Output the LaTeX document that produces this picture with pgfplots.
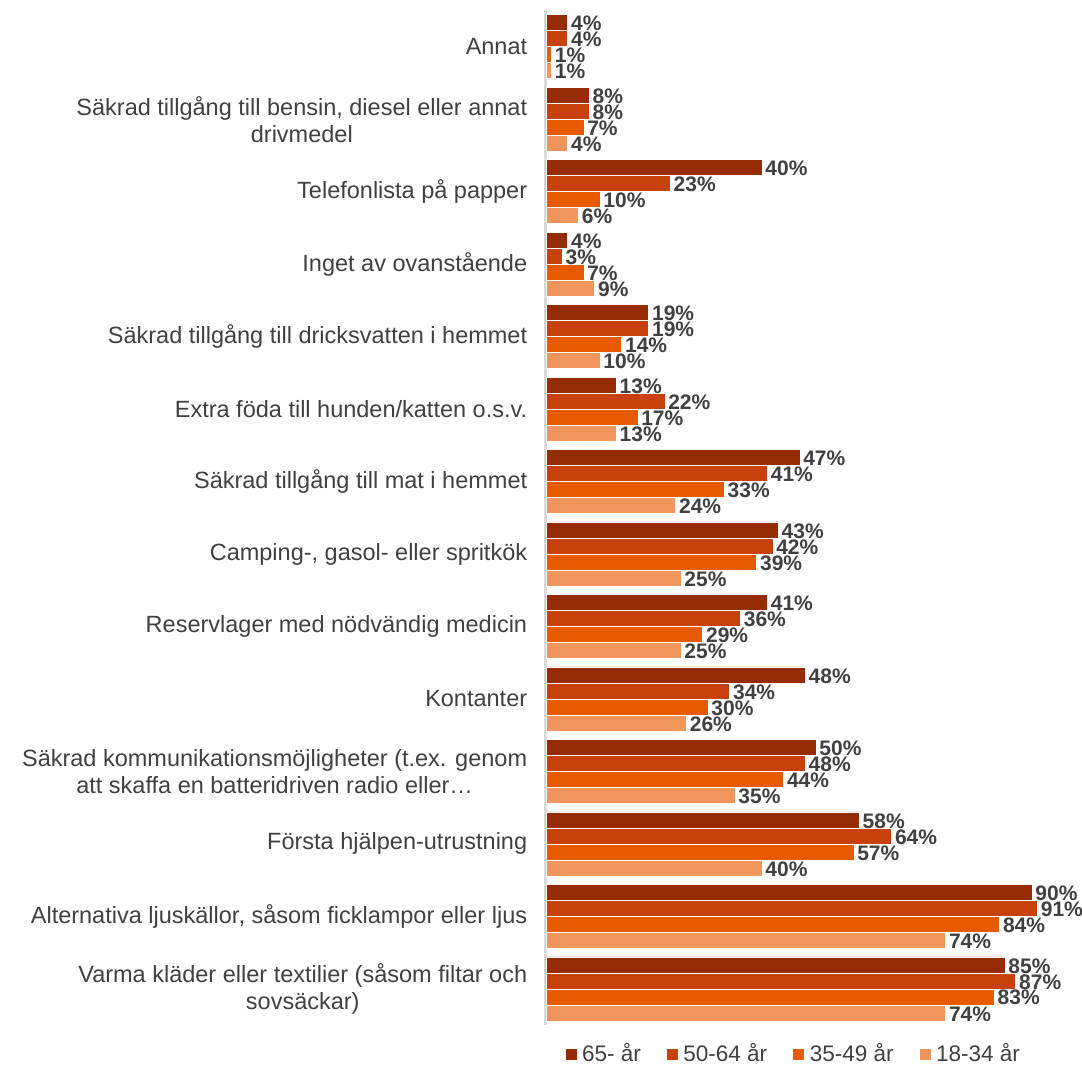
\documentclass[border=0pt]{standalone}
\usepackage{fontspec}
\setmainfont{Liberation Sans}
\usepackage{pgfplots}
\pgfplotsset{compat=1.18}
\definecolor{cA}{HTML}{962A00}
\definecolor{cB}{HTML}{C8400C}
\definecolor{cC}{HTML}{E85A00}
\definecolor{cD}{HTML}{F0955C}
\definecolor{txt}{HTML}{404040}
\begin{document}
\begin{tikzpicture}
\begin{axis}[
  xbar, bar width=6.4pt,
  scale only axis, width=209.5pt, height=405.8pt,
  xmin=0, xmax=97, ymin=-0.5, ymax=13.5,
  clip=false,
  /pgf/number format/assume math mode=true,
  axis lines*=left,
  x axis line style={draw=none},
  y axis line style={draw=black!15, line width=1.2pt},
  xtick=\empty,
  ytick={0,...,13},
  yticklabels={
    {Varma kläder eller textilier (såsom filtar och\\sovsäckar)},
    {Alternativa ljuskällor, såsom ficklampor eller ljus},
    {Första hjälpen-utrustning},
    {Säkrad kommunikationsmöjligheter (t.ex. genom\\att skaffa en batteridriven radio eller…},
    {Kontanter},
    {Reservlager med nödvändig medicin},
    {Camping-, gasol- eller spritkök},
    {Säkrad tillgång till mat i hemmet},
    {Extra föda till hunden/katten o.s.v.},
    {Säkrad tillgång till dricksvatten i hemmet},
    {Inget av ovanstående},
    {Telefonlista på papper},
    {Säkrad tillgång till bensin, diesel eller annat\\drivmedel},
    {Annat}},
  major tick length=0pt,
  yticklabel style={align=center, font=\fontsize{9.4}{10.8}\selectfont, text=txt, xshift=-4pt},
  nodes near coords={\pgfmathprintnumber{\pgfplotspointmeta}\%},
  nodes near coords style={font=\fontsize{8.4}{10}\selectfont\bfseries, text=txt, inner sep=1pt, xshift=0.3pt, yshift=-0.4pt},
  legend style={at={(0.475,0)}, anchor=north, yshift=-3pt, draw=none, fill=none,
    legend columns=4, font=\fontsize{9}{10}\selectfont, text=txt,
    /tikz/every even column/.append style={column sep=8pt}},
  legend image code/.code={\fill[#1] (0pt,-2.4pt) rectangle (4.8pt,2.4pt);},
]
\coordinate (O) at (rel axis cs:0,0);
\addplot[fill=cA, draw=white, line width=0.2pt, bar shift=9.6pt] coordinates {
  (85,0) (90,1) (58,2) (50,3) (48,4) (41,5) (43,6) (47,7) (13,8) (19,9) (4,10) (40,11) (8,12) (4,13)};
\addplot[fill=cB, draw=white, line width=0.2pt, bar shift=3.2pt] coordinates {
  (87,0) (91,1) (64,2) (48,3) (34,4) (36,5) (42,6) (41,7) (22,8) (19,9) (3,10) (23,11) (8,12) (4,13)};
\addplot[fill=cC, draw=white, line width=0.2pt, bar shift=-3.2pt] coordinates {
  (83,0) (84,1) (57,2) (44,3) (30,4) (29,5) (39,6) (33,7) (17,8) (14,9) (7,10) (10,11) (7,12) (1,13)};
\addplot[fill=cD, draw=white, line width=0.2pt, bar shift=-9.6pt] coordinates {
  (74,0) (74,1) (40,2) (35,3) (26,4) (25,5) (25,6) (24,7) (13,8) (10,9) (9,10) (6,11) (4,12) (1,13)};
\legend{65- år, 50-64 år, 35-49 år, 18-34 år}
\end{axis}
\pgfresetboundingbox
\path (O) ++(-218.4pt,-16.4pt) rectangle ++(432.8pt,426.4pt);
\end{tikzpicture}
\end{document}
